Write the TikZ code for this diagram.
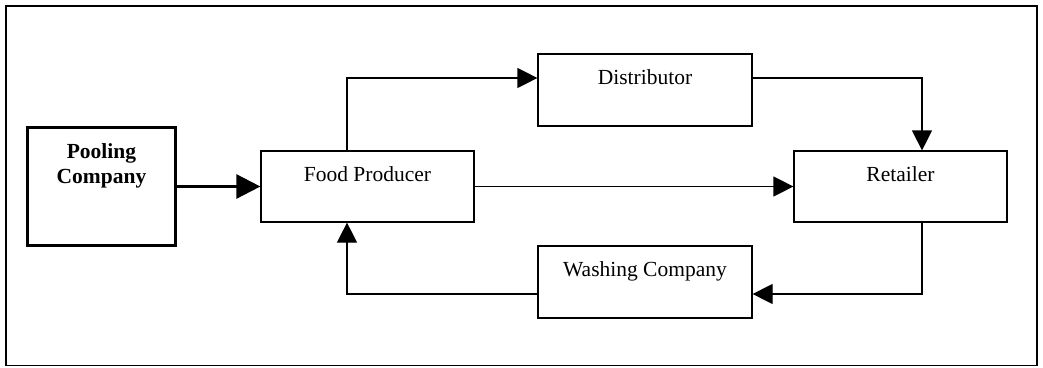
\documentclass[tikz,border=0pt]{standalone}
\usepackage{fontspec}
\setmainfont{Liberation Serif}
\usetikzlibrary{arrows.meta}
\begin{document}
\begin{tikzpicture}[x=1pt,y=-1pt,
  box/.style={draw,line width=1.2pt,inner sep=0pt},
  boxlabel/.style={anchor=base,yshift=-31.5pt,inner sep=0pt,font=\fontsize{21.5}{25}\selectfont},
  arr/.style={line width=1.2pt,-{Triangle[length=20pt,width=20pt]}},
  thickarr/.style={line width=2.6pt,-{Triangle[length=24pt,width=24pt]}}]
\useasboundingbox (0,0) rectangle (1043,367);
\draw[line width=1.3pt] (6,6) rectangle (1037,365.5);
\node[draw,line width=3.3pt,inner sep=0pt,minimum width=148pt,minimum height=118pt,
  label={[anchor=north,yshift=-17.5pt,inner sep=0pt,align=center,font=\fontsize{21.5}{25}\selectfont\bfseries]north:Pooling\\Company}]
  (pool) at (101.5,186.5) {};
\node[box,minimum width=213pt,minimum height=71pt,label={[boxlabel]north:Food Producer}] (fp) at (367.5,186.5) {};
\node[box,minimum width=214pt,minimum height=72pt,label={[boxlabel]north:Distributor}] (dist) at (645,90) {};
\node[box,minimum width=213pt,minimum height=71pt,label={[boxlabel]north:Retailer}] (ret) at (900.5,186.5) {};
\node[box,minimum width=214pt,minimum height=72pt,label={[boxlabel]north:Washing Company}] (wash) at (645,282) {};
\draw[thickarr] (pool.east) -- (fp.west);
\draw[arr] ([xshift=-20.5pt]fp.north) |- ([yshift=12pt]dist.west);
\draw[arr] ([yshift=12pt]dist.east) -| ([xshift=21.5pt]ret.north);
\draw[arr] (fp.east) -- (ret.west);
\draw[arr] ([xshift=21.5pt]ret.south) |- ([yshift=-12pt]wash.east);
\draw[arr] ([yshift=-12pt]wash.west) -| ([xshift=-20.5pt]fp.south);
\end{tikzpicture}
\end{document}
